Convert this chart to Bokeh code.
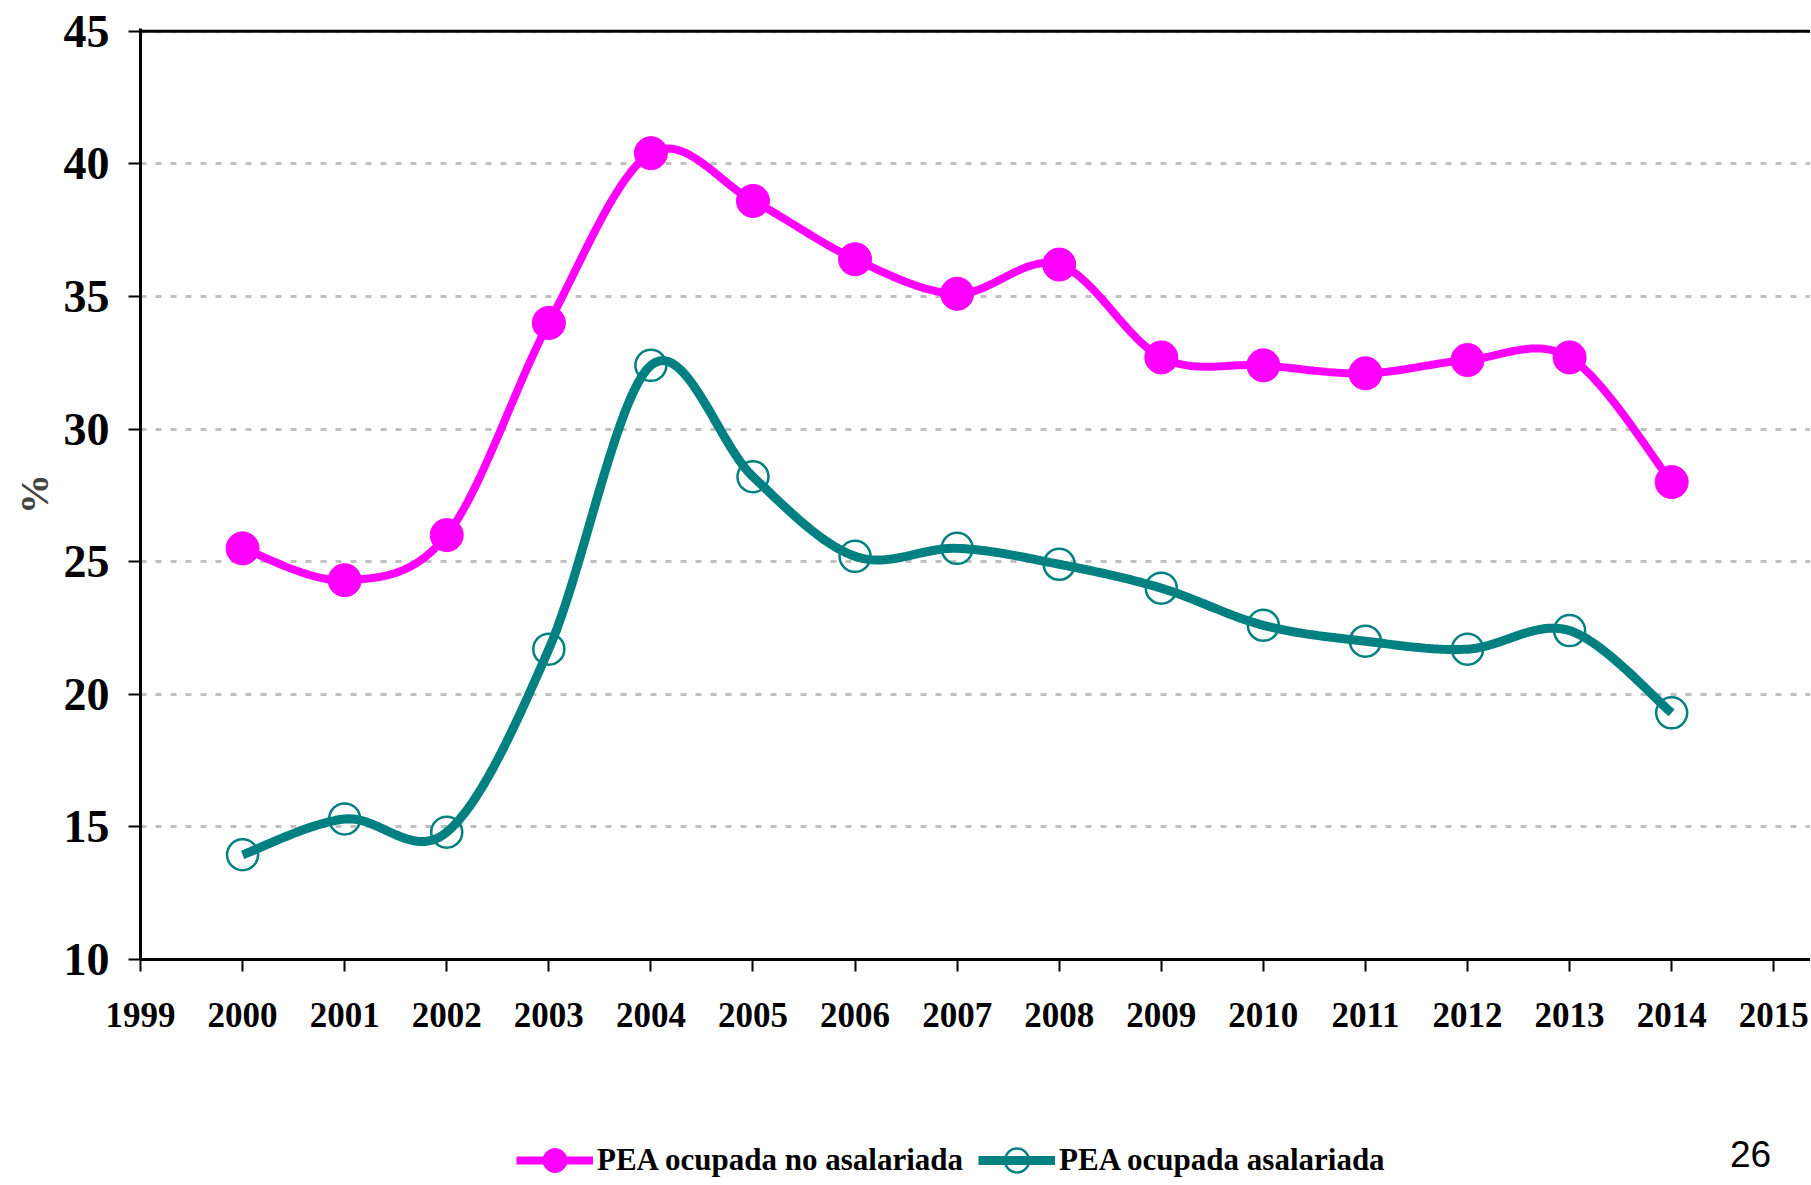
from bokeh.plotting import figure
from bokeh.layouts import column
from bokeh.models import Range1d, Span, Legend, LegendItem, Label, FixedTicker
from bokeh.embed import file_html
from bokeh.resources import INLINE
import numpy as np

# ---- data ----
years = [2000, 2001, 2002, 2003, 2004, 2005, 2006, 2007, 2008, 2009, 2010, 2011, 2012, 2013, 2014]
no_asalariada = [25.5, 24.3, 26.0, 34.0, 40.4, 38.6, 36.4, 35.1, 36.2, 32.7, 32.4, 32.1, 32.6, 32.7, 28.0]
asalariada = [13.95, 15.3, 14.8, 21.7, 32.4, 28.2, 25.2, 25.5, 24.9, 24.0, 22.6, 22.0, 21.7, 22.4, 19.3]
x_ticks = list(range(1999, 2016))
x_tick_labels = [str(y) for y in x_ticks]
y_ticks = [10, 15, 20, 25, 30, 35, 40, 45]
series_names = ["PEA ocupada no asalariada", "PEA ocupada asalariada"]
page_number = "26"

PINK = "#FF00FF"
TEAL = "#008080"
SERIF = "Liberation Serif"


def smooth_curve(xs, ys, n=24):
    """Catmull-Rom rendering of a line through the given points (drawing style only)."""
    P = np.column_stack([np.asarray(xs, float), np.asarray(ys, float)])
    out = []
    m = len(P)
    for i in range(m - 1):
        p0 = P[i - 1] if i > 0 else P[i]
        p1 = P[i]
        p2 = P[i + 1]
        p3 = P[i + 2] if i + 2 < m else P[i + 1]
        for t in np.linspace(0, 1, n, endpoint=(i == m - 2)):
            pt = 0.5 * (2 * p1 + (-p0 + p2) * t + (2 * p0 - 5 * p1 + 4 * p2 - p3) * t ** 2
                        + (-p0 + 3 * p1 - 3 * p2 + p3) * t ** 3)
            out.append(pt)
    out = np.array(out)
    return out[:, 0], out[:, 1]


W = 1810
H1 = 1090   # main chart: page y 0 .. 1090
H2 = 94     # legend strip: page y 1090 .. 1184

p = figure(width=W, height=H1, output_backend="svg", toolbar_location=None,
           x_range=Range1d(1999, 2015.36), y_range=Range1d(10, 45.1),
           min_border_left=140, min_border_top=28, min_border_right=0,
           min_border_bottom=H1 - 959)
p.outline_line_color = None
p.background_fill_color = "white"
p.border_fill_color = "white"

# grid
p.xgrid.visible = False
p.ygrid.grid_line_color = "#C0C0C0"
p.ygrid.grid_line_width = 3
p.ygrid.grid_line_dash = "6 9"

# axes
for ax in (p.xaxis[0], p.yaxis[0]):
    ax.axis_line_color = "black"
    ax.axis_line_width = 3
    ax.major_tick_line_color = "black"
    ax.major_tick_line_width = 2
    ax.major_tick_in = 0
    ax.major_tick_out = 12
    ax.minor_tick_line_color = None
    ax.major_label_text_font = SERIF
    ax.major_label_text_font_style = "bold"
    ax.major_label_text_color = "black"

p.xaxis.ticker = FixedTicker(ticks=x_ticks)
p.xaxis.major_label_overrides = {t: l for t, l in zip(x_ticks, x_tick_labels)}
p.xaxis.major_label_text_font_size = "35px"
p.xaxis.major_label_standoff = 31

p.yaxis.ticker = FixedTicker(ticks=y_ticks)
p.yaxis.major_label_overrides = {t: str(t) for t in y_ticks}
p.yaxis.major_label_text_font_size = "46px"
p.yaxis.major_label_standoff = 19
p.yaxis.axis_label = "%"
p.yaxis.axis_label_text_font = SERIF
p.yaxis.axis_label_text_font_style = "bold"
p.yaxis.axis_label_text_font_size = "40px"
p.yaxis.axis_label_standoff = 4

# top border line at 45
p.add_layout(Span(location=45, dimension="width", line_color="black", line_width=3))

# series
sx1, sy1 = smooth_curve(years, no_asalariada)
sx2, sy2 = smooth_curve(years, asalariada)

p.line(sx1, sy1, line_color=PINK, line_width=8)
p.scatter(years, no_asalariada, marker="circle", size=33, fill_color=PINK, line_color=PINK)

p.scatter(years, asalariada, marker="circle", size=31, fill_color=None,
          line_color=TEAL, line_width=2.5)
p.line(sx2, sy2, line_color=TEAL, line_width=9)

# ---- legend strip below the chart (its frame is aligned with the chart's frame) ----
p2 = figure(width=W, height=H2, output_backend="svg", toolbar_location=None,
            x_range=Range1d(0, 1), y_range=Range1d(0, 1),
            x_axis_location=None, y_axis_location=None,
            min_border_left=0, min_border_right=0, min_border_top=0, min_border_bottom=0)
p2.outline_line_color = None
p2.xgrid.visible = False
p2.ygrid.visible = False
p2.background_fill_color = "white"
p2.border_fill_color = "white"

# legend samples (NaN data: nothing drawn in the strip, only the legend glyphs)
nan = [float("nan")]
k1l = p2.line(nan, nan, line_color=PINK, line_width=8)
k1m = p2.scatter(nan, nan, marker="circle", size=26, fill_color=PINK, line_color=PINK)
k2l = p2.line(nan, nan, line_color=TEAL, line_width=9)
k2m = p2.scatter(nan, nan, marker="circle", size=24, fill_color=None, line_color=TEAL, line_width=2.5)

legend = Legend(items=[LegendItem(label=series_names[0], renderers=[k1l, k1m]),
                       LegendItem(label=series_names[1], renderers=[k2l, k2m])],
                orientation="horizontal", location=(376, -6))
legend.label_text_font = SERIF
legend.label_text_font_style = "bold"
legend.label_text_font_size = "31px"
legend.label_text_color = "black"
legend.glyph_width = 77
legend.glyph_height = 60
legend.label_standoff = 4
legend.spacing = 15
legend.padding = 0
legend.margin = 0
legend.border_line_color = None
legend.background_fill_alpha = 0
p2.add_layout(legend, "center")

p2.add_layout(Label(x=1610, y=31, x_units="screen", y_units="screen", text=page_number,
                    text_align="center", text_baseline="alphabetic",
                    text_font="Liberation Sans", text_font_size="37px", text_color="black"))

layout = column(p, p2, spacing=0)
open("out.html", "w").write(file_html(layout, INLINE))
